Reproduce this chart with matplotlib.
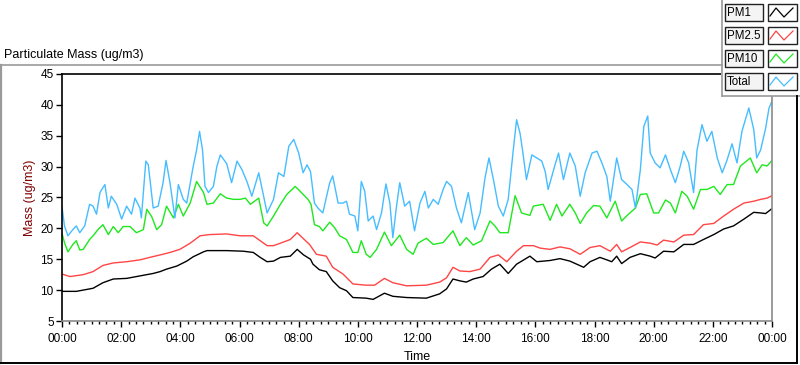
import matplotlib
matplotlib.use('Agg')
import matplotlib.pyplot as plt
from matplotlib.lines import Line2D
from matplotlib.patches import Rectangle
from matplotlib.ticker import MultipleLocator, FixedLocator

plt.rcParams['font.family'] = ['Liberation Sans', 'DejaVu Sans']

# 時間 (分鐘) 與濃度 (ug/m3)
pm1_t = [0, 29, 63, 83, 104, 131, 158, 185, 199, 212, 233, 253, 266, 287, 294, 334, 368, 388,
         402, 416, 429, 443, 463, 477, 490, 504, 509, 522, 536, 549, 563, 577, 590, 617, 631,
         654, 671, 699, 739, 766, 780, 793, 807, 820, 834, 854, 871, 888, 905, 922, 949, 963,
         990, 1010, 1030, 1044, 1058, 1071, 1091, 1105, 1115, 1125, 1135, 1152, 1173, 1193,
         1203, 1220, 1241, 1261, 1281, 1301, 1322, 1342, 1362, 1383, 1403, 1417, 1427, 1440]
pm1_v = [9.8, 9.8, 10.3, 11.2, 11.8, 11.9, 12.3, 12.7, 13.0, 13.4, 13.9, 14.7, 15.4, 16.2, 16.4,
         16.4, 16.3, 16.1, 15.3, 14.6, 14.7, 15.3, 15.5, 16.6, 15.7, 15.0, 14.2, 13.3, 13.0, 11.5,
         10.4, 9.9, 8.8, 8.7, 8.5, 9.5, 9.0, 8.8, 8.7, 9.4, 10.2, 11.8, 11.5, 11.3, 11.8, 12.2,
         13.4, 14.2, 12.7, 14.2, 15.5, 14.6, 14.8, 15.1, 14.7, 14.2, 13.7, 14.6, 15.3, 14.9,
         14.6, 15.5, 14.3, 15.3, 15.9, 15.5, 15.2, 16.3, 16.2, 17.4, 17.4, 18.2, 19.0, 19.9,
         20.4, 21.5, 22.6, 22.5, 22.4, 23.2]

pm25_t = [0, 16, 43, 63, 83, 104, 131, 158, 178, 199, 219, 239, 260, 280, 300, 334, 361, 388,
          402, 416, 429, 443, 463, 477, 490, 502, 516, 536, 549, 570, 590, 617, 634, 654, 671,
          699, 739, 766, 780, 793, 807, 827, 848, 868, 885, 902, 922, 936, 956, 970, 990, 1010,
          1030, 1051, 1071, 1091, 1112, 1125, 1135, 1152, 1173, 1193, 1207, 1220, 1241, 1261,
          1281, 1301, 1322, 1342, 1362, 1383, 1403, 1417, 1430, 1440]
pm25_v = [12.6, 12.2, 12.5, 13.0, 14.0, 14.4, 14.6, 14.9, 15.3, 15.7, 16.1, 16.6, 17.6, 18.8,
          19.0, 19.1, 18.8, 18.8, 18.0, 17.2, 17.2, 17.6, 18.2, 19.3, 18.3, 17.4, 15.8, 15.5,
          13.7, 12.6, 11.0, 10.8, 10.8, 11.9, 11.2, 10.7, 10.8, 11.3, 12.0, 13.7, 13.1, 13.0,
          13.4, 15.3, 15.7, 14.6, 16.3, 17.2, 17.2, 16.8, 16.6, 17.0, 16.7, 15.8, 16.9, 17.2,
          16.3, 17.4, 16.2, 16.9, 17.8, 17.6, 17.3, 18.1, 17.8, 18.9, 19.0, 20.6, 20.8, 22.0,
          23.1, 24.1, 24.4, 24.7, 24.9, 25.3]

pm10_t = [0, 5, 12, 22, 29, 36, 43, 56, 63, 73, 83, 94, 104, 114, 124, 138, 151, 165, 172, 182,
          192, 202, 212, 226, 236, 246, 260, 273, 287, 294, 307, 321, 334, 348, 361, 372, 382,
          399, 409, 416, 429, 443, 456, 473, 483, 499, 505, 512, 522, 529, 543, 553, 563, 577,
          590, 600, 607, 617, 625, 638, 654, 668, 685, 699, 712, 722, 739, 753, 773, 793, 807,
          820, 834, 851, 868, 878, 888, 905, 919, 932, 949, 956, 976, 990, 1003, 1014, 1030,
          1041, 1051, 1064, 1078, 1091, 1105, 1122, 1135, 1149, 1163, 1173, 1186, 1200, 1210,
          1224, 1234, 1244, 1257, 1268, 1281, 1295, 1308, 1322, 1335, 1349, 1362, 1376, 1396,
          1409, 1420, 1430, 1440]
pm10_v = [19.2, 17.7, 16.2, 17.4, 18.0, 16.5, 16.6, 18.2, 18.8, 19.8, 20.6, 19.0, 20.3, 19.3,
          20.3, 20.3, 19.3, 19.8, 23.1, 21.9, 19.8, 20.6, 23.6, 21.7, 23.9, 22.0, 24.1, 27.6,
          25.8, 23.9, 24.1, 25.6, 24.9, 24.7, 24.7, 24.9, 23.9, 24.9, 20.9, 20.4, 22.0, 23.9,
          25.5, 26.8, 26.0, 24.7, 23.9, 20.6, 20.3, 19.6, 21.0, 20.1, 18.8, 18.2, 16.1, 16.1,
          18.0, 15.8, 15.3, 16.6, 19.4, 17.2, 18.9, 16.6, 15.8, 17.6, 18.4, 17.4, 17.7, 19.6,
          17.2, 18.5, 17.3, 18.0, 21.2, 20.4, 19.3, 19.3, 25.3, 22.5, 22.1, 23.6, 23.9, 21.3,
          23.9, 22.0, 23.9, 22.5, 20.8, 22.5, 23.7, 23.6, 21.7, 24.4, 21.2, 22.3, 23.3, 25.5,
          25.6, 22.5, 22.5, 24.6, 24.1, 22.5, 26.0, 25.2, 23.1, 26.3, 26.3, 26.8, 25.5, 27.1,
          27.1, 30.1, 31.4, 29.0, 30.3, 30.1, 31.0]

total_t = [0, 5, 12, 22, 29, 36, 46, 56, 63, 70, 77, 87, 94, 100, 111, 121, 131, 141, 148, 158,
           161, 170, 175, 185, 195, 205, 211, 219, 229, 236, 246, 253, 266, 273, 279, 285, 290,
           297, 307, 314, 321, 334, 344, 355, 365, 375, 385, 399, 409, 416, 429, 439, 450, 460,
           470, 480, 489, 497, 504, 512, 519, 529, 543, 549, 560, 570, 577, 583, 594, 600, 607,
           614, 621, 631, 638, 648, 657, 665, 671, 678, 685, 695, 705, 715, 726, 736, 743, 753,
           763, 773, 780, 790, 800, 810, 824, 837, 848, 858, 866, 875, 885, 895, 905, 915, 922,
           929, 934, 942, 953, 963, 973, 980, 986, 1000, 1007, 1017, 1030, 1041, 1051, 1061,
           1075, 1085, 1095, 1105, 1112, 1125, 1135, 1146, 1156, 1163, 1173, 1180, 1188, 1193,
           1203, 1213, 1224, 1234, 1244, 1254, 1261, 1271, 1281, 1288, 1298, 1308, 1318, 1329,
           1339, 1349, 1359, 1369, 1379, 1393, 1403, 1409, 1417, 1427, 1434, 1440]
total_v = [23.5, 20.4, 18.8, 19.8, 20.4, 19.3, 20.4, 23.9, 23.6, 22.3, 25.8, 27.1, 23.3, 25.2,
           23.9, 21.5, 23.6, 22.3, 24.9, 23.3, 21.7, 30.9, 30.3, 23.3, 23.6, 27.4, 31.0, 27.4,
           21.7, 27.1, 24.7, 24.1, 30.0, 32.7, 35.7, 32.7, 26.8, 25.8, 26.8, 30.0, 31.9, 30.5,
           27.4, 30.9, 29.5, 27.6, 25.2, 29.0, 25.2, 22.5, 24.7, 29.0, 28.4, 33.3, 34.4, 32.2,
           29.0, 30.3, 29.2, 24.1, 23.3, 22.5, 27.4, 28.5, 24.1, 24.1, 24.4, 22.3, 22.0, 19.6,
           27.6, 26.0, 21.2, 22.0, 19.8, 22.5, 27.2, 24.1, 18.5, 23.3, 27.4, 23.6, 24.4, 19.6,
           24.1, 26.0, 23.3, 24.7, 23.9, 26.3, 27.6, 26.8, 23.3, 20.9, 25.8, 19.8, 22.5, 28.2,
           31.4, 27.9, 23.6, 22.0, 24.7, 32.5, 37.6, 35.4, 32.7, 27.9, 31.9, 31.4, 30.9, 29.2,
           26.3, 30.3, 32.2, 27.9, 32.2, 30.1, 25.2, 29.0, 32.2, 32.5, 30.6, 28.4, 24.4, 31.4,
           27.9, 27.1, 26.3, 23.3, 29.5, 36.5, 38.2, 32.2, 30.6, 29.8, 31.9, 29.5, 27.4, 30.1,
           32.5, 30.6, 25.8, 32.7, 36.8, 34.1, 35.7, 31.4, 29.0, 31.1, 33.7, 30.6, 35.7, 39.5,
           36.0, 31.4, 32.7, 36.2, 39.5, 40.6]

series_names = ['PM1', 'PM2.5', 'PM10', 'Total']
series_colors = ['#000000', '#ff4545', '#1ee81e', '#45bdff']
x_tick_labels = ['00:00', '02:00', '04:00', '06:00', '08:00', '10:00', '12:00',
                 '14:00', '16:00', '18:00', '20:00', '22:00', '00:00']
y_ticks = [5, 10, 15, 20, 25, 30, 35, 40, 45]

W, H = 800, 365
fig = plt.figure(figsize=(8, 3.65), dpi=100)
fig.patch.set_facecolor('white')


def fx(x):
    return x / W


def fy(y):
    return 1 - y / H


# 繪圖區
ax = fig.add_axes([fx(62), fy(321), fx(772) - fx(62), fy(74) - fy(321)])
for t, v, c in zip([pm1_t, pm25_t, pm10_t, total_t], [pm1_v, pm25_v, pm10_v, total_v], series_colors):
    ax.plot([m / 60 for m in t], v, color=c, lw=1.0)

ax.set_xlim(0, 24)
ax.set_ylim(5, 45)
ax.xaxis.set_major_locator(FixedLocator(range(0, 25, 2)))
ax.xaxis.set_minor_locator(MultipleLocator(0.25))
ax.set_xticklabels(x_tick_labels)
ax.set_yticks(y_ticks)
ax.tick_params(axis='both', which='major', direction='out', length=4, width=1, color='black',
               labelsize=8.5)
ax.tick_params(axis='x', which='major', pad=5)
ax.tick_params(axis='y', which='major', pad=2)
ax.tick_params(axis='x', which='minor', direction='out', length=2.5, width=1, color='black')
ax.spines['left'].set_color('black')
ax.spines['top'].set_color('black')
ax.spines['right'].set_color('#8a8a8a')
ax.spines['bottom'].set_color('#8a8a8a')
for s in ax.spines.values():
    s.set_linewidth(1.2)

ax.set_xlabel('Time', fontsize=9, labelpad=4)
ax.set_ylabel('Mass (ug/m3)', fontsize=9, color='#800000', labelpad=3)

# 標題
fig.text(fx(4), fy(55), 'Particulate Mass (ug/m3)', fontsize=9, va='center', ha='left')

# 外框
fig.add_artist(Line2D([fx(0), fx(722)], [fy(64.5), fy(64.5)], color='#9a9a9a', lw=1.2))
fig.add_artist(Line2D([fx(0.8), fx(0.8)], [fy(64.5), fy(363)], color='#9a9a9a', lw=1.6))
fig.add_artist(Line2D([fx(0), fx(797)], [fy(363), fy(363)], color='black', lw=1.4))
fig.add_artist(Line2D([fx(797), fx(797)], [fy(96), fy(363)], color='black', lw=1.4))

# 圖例
lg = fig.add_axes([fx(721), fy(97), fx(800) - fx(721), fy(0) - fy(97)])
lg.set_xlim(721, 800)
lg.set_ylim(97, 0)
lg.axis('off')
lg.add_patch(Rectangle((721, 0), 79, 96, facecolor='white', edgecolor='none'))
lg.plot([722, 722], [0, 96], color='#9a9a9a', lw=1.2)
lg.plot([722, 800], [96, 96], color='#9a9a9a', lw=1.2)
row_tops = [4, 27, 50, 73]
for top, name, c in zip(row_tops, series_names, series_colors):
    lg.add_patch(Rectangle((725, top), 38, 17, facecolor='#f4f4f4', edgecolor='#222222', lw=1.0))
    lg.text(726.5, top + 9, name, fontsize=8.3, va='center', ha='left')
    lg.add_patch(Rectangle((768, top), 29, 17, facecolor='white', edgecolor='#222222', lw=1.0))
    lg.plot([770, 776, 784, 793], [top + 12, top + 4, top + 13, top + 4], color=c, lw=0.9)

fig.savefig('out.png', dpi=100)
